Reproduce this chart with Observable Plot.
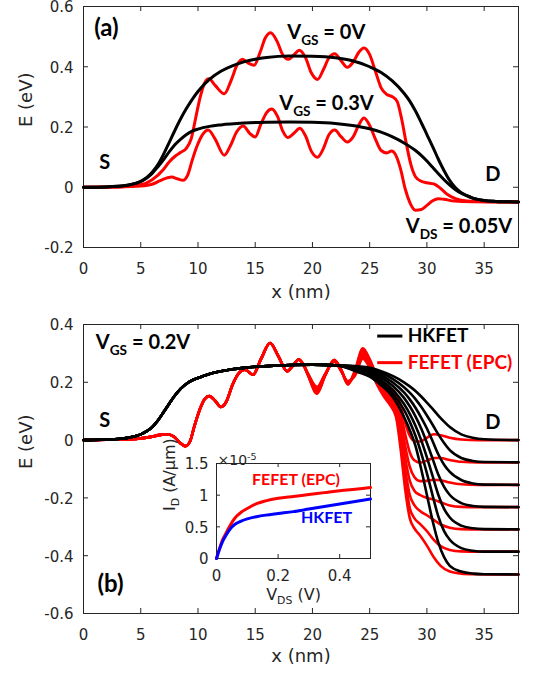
<!DOCTYPE html>
<html><head><meta charset="utf-8">
<script src="https://cdn.jsdelivr.net/npm/d3@7"></script>
<script src="https://cdn.jsdelivr.net/npm/@observablehq/plot@0.6"></script>
<style>
body{margin:0;background:#fff;}
#wrap{position:relative;width:534px;height:676px;overflow:hidden;background:#fff;}
#wrap svg{position:absolute;}
</style></head><body><div id="wrap"></div>
<script>
// ---------------- tick values ----------------
const xTicks = [0,5,10,15,20,25,30,35];
const yTicksA = [-0.2,0,0.2,0.4,0.6];
const yTicksB = [-0.6,-0.4,-0.2,0,0.2,0.4];
const insetXTicks = [0,0.2,0.4];
const insetYTicks = [0,0.5,1,1.5];

// ---------------- panel (a): [x (nm), E (eV)] ----------------
const aBlackVgs0 = [[0,0],[2,0.001],[3,0.003],[4,0.008],[5,0.02],[5.5,0.032],[6,0.05],[6.5,0.075],[7,0.11],[7.5,0.15],[8,0.19],[8.5,0.228],[9,0.262],[9.5,0.292],[10,0.318],[11,0.358],[12,0.385],[13,0.403],[14,0.416],[15,0.425],[16,0.431],[18,0.436],[20,0.435],[22,0.43],[23.5,0.42],[25,0.4],[26,0.381],[27,0.352],[28,0.312],[28.5,0.286],[29,0.253],[29.5,0.215],[30,0.175],[30.5,0.135],[31,0.093],[31.5,0.055],[32,0.022],[32.5,-0.002],[33,-0.018],[33.5,-0.028],[34,-0.036],[35,-0.044],[36,-0.047],[38,-0.049]];
const aBlackVgs03 = [[0,0],[2,0.001],[3,0.003],[4,0.008],[5,0.019],[5.5,0.03],[6,0.046],[6.5,0.068],[7,0.092],[7.5,0.118],[8,0.142],[8.5,0.16],[9,0.175],[9.5,0.186],[10,0.193],[11,0.202],[12,0.207],[14,0.213],[16,0.216],[18,0.217],[20,0.216],[22,0.212],[23.5,0.205],[25,0.194],[26,0.183],[27,0.167],[28,0.147],[29,0.122],[29.5,0.106],[30,0.087],[30.5,0.066],[31,0.045],[31.5,0.025],[32,0.007],[32.5,-0.008],[33,-0.02],[33.5,-0.029],[34,-0.036],[35,-0.044],[36,-0.047],[38,-0.049]];
const aRedVgs0 = [[0,0],[3,0.001],[5,0.008],[6,0.025],[7,0.06],[7.5,0.085],[8,0.103],[8.5,0.116],[9,0.13],[9.4,0.16],[9.8,0.23],[10.2,0.3],[10.6,0.348],[10.95,0.36],[11.5,0.338],[12.3,0.31],[12.9,0.355],[13.4,0.405],[13.9,0.425],[14.4,0.412],[14.9,0.405],[15.4,0.445],[15.9,0.497],[16.35,0.513],[16.9,0.485],[17.4,0.44],[17.9,0.425],[18.4,0.44],[18.85,0.455],[19.4,0.43],[19.9,0.38],[20.45,0.358],[20.95,0.39],[21.45,0.43],[21.95,0.443],[22.5,0.42],[23.05,0.398],[23.55,0.415],[24.05,0.448],[24.5,0.462],[25,0.44],[25.5,0.385],[26,0.33],[26.5,0.308],[27,0.3],[27.4,0.285],[27.8,0.225],[28.2,0.145],[28.6,0.075],[29,0.035],[29.5,0.02],[30,0.015],[30.6,0.011],[31.2,-0.004],[31.8,-0.024],[32.5,-0.038],[33.5,-0.046],[35,-0.048],[38,-0.049]];
const aRedVgs03 = [[0,0],[3,0.001],[5,0.004],[6,0.01],[6.7,0.022],[7.3,0.031],[7.7,0.034],[8.2,0.028],[8.7,0.023],[9.1,0.04],[9.5,0.09],[9.9,0.135],[10.4,0.175],[10.9,0.19],[11.5,0.16],[12.3,0.106],[12.8,0.135],[13.4,0.185],[13.95,0.203],[14.5,0.18],[15,0.167],[15.5,0.21],[16,0.248],[16.45,0.26],[16.95,0.235],[17.4,0.187],[17.85,0.165],[18.4,0.18],[18.9,0.196],[19.4,0.17],[19.9,0.12],[20.45,0.1],[20.95,0.128],[21.45,0.175],[21.95,0.19],[22.5,0.168],[23.05,0.15],[23.55,0.167],[24.05,0.207],[24.5,0.23],[25,0.205],[25.5,0.16],[26,0.122],[26.5,0.114],[26.9,0.12],[27.3,0.105],[27.7,0.06],[28.1,-0.005],[28.5,-0.05],[29,-0.076],[29.5,-0.074],[30,-0.06],[30.5,-0.045],[31,-0.038],[31.5,-0.04],[32.4,-0.046],[34,-0.048],[38,-0.049]];

// ---------------- panel (b): HKFET (black), shared source side ----------------
const bBlackLeft = [[0,0],[2,0.002],[3,0.004],[4,0.009],[5,0.02],[5.5,0.03],[6,0.045],[6.5,0.068],[7,0.097],[7.5,0.127],[8,0.155],[8.5,0.178],[9,0.195],[9.5,0.207],[10,0.215],[11,0.229],[12,0.238],[13,0.245],[14,0.25],[16,0.256],[18,0.26],[20,0.261],[22,0.259]];
const bBlackRightX = [24,25,26,27,28,28.5,29,29.5,30,30.5,31,31.5,32,33,34,35,38];
const bBlackVds0 = [0.255,0.250,0.238,0.222,0.200,0.186,0.170,0.151,0.130,0.108,0.085,0.064,0.045,0.020,0.008,0.003,0.000];
const bBlackVds1 = [0.253,0.246,0.232,0.212,0.183,0.164,0.142,0.115,0.085,0.053,0.020,-0.010,-0.035,-0.062,-0.072,-0.076,-0.077];
const bBlackVds2 = [0.250,0.241,0.225,0.200,0.165,0.141,0.112,0.078,0.040,-0.004,-0.050,-0.085,-0.110,-0.138,-0.150,-0.154,-0.155];
const bBlackVds3 = [0.247,0.236,0.217,0.188,0.146,0.117,0.082,0.040,-0.010,-0.065,-0.120,-0.162,-0.190,-0.218,-0.228,-0.231,-0.232];
const bBlackVds4 = [0.243,0.231,0.208,0.175,0.125,0.091,0.050,0.000,-0.060,-0.125,-0.190,-0.238,-0.268,-0.296,-0.305,-0.308,-0.309];
const bBlackVds5 = [0.239,0.225,0.199,0.162,0.105,0.064,0.015,-0.045,-0.115,-0.192,-0.265,-0.315,-0.345,-0.374,-0.383,-0.386,-0.386];
const bBlackVds6 = [0.235,0.220,0.190,0.150,0.080,0.035,-0.020,-0.100,-0.190,-0.280,-0.355,-0.405,-0.435,-0.455,-0.462,-0.464,-0.465];

// ---------------- panel (b): FEFET (red), shared source side ----------------
const bRedLeft = [[0,0],[2,0.001],[4,0.003],[5,0.006],[6,0.012],[6.7,0.018],[7.3,0.02],[7.9,0.012],[8.4,-0.008],[8.9,-0.021],[9.3,-0.005],[9.7,0.05],[10.2,0.11],[10.6,0.143],[11,0.152],[11.5,0.136],[12,0.115],[12.5,0.135],[13,0.19],[13.5,0.228],[14.1,0.244],[14.8,0.226],[15.5,0.28],[16.3,0.336],[17,0.292],[17.8,0.238],[18.3,0.258],[18.8,0.279],[19.2,0.262]];
const bRedRightX = [19.6,20.4,21.1,21.9,22.5,23.1,23.7,24.4,25.0,25.6,26.2,26.8,27.3,27.7,28.1,28.5,28.9,29.4,30.0,30.6,31.2,32.0,33.0,34.5,36,38];
const bRedVds0 = [0.225,0.160,0.222,0.278,0.245,0.192,0.240,0.318,0.280,0.225,0.195,0.180,0.160,0.120,0.060,0.015,-0.003,-0.005,0.008,0.020,0.017,0.008,0.002,0,0,0];
const bRedVds1 = [0.226,0.164,0.223,0.277,0.244,0.194,0.237,0.312,0.275,0.220,0.188,0.170,0.145,0.095,0.020,-0.042,-0.070,-0.078,-0.071,-0.062,-0.062,-0.069,-0.075,-0.077,-0.077,-0.077];
const bRedVds2 = [0.227,0.168,0.224,0.276,0.243,0.196,0.234,0.306,0.270,0.215,0.181,0.160,0.130,0.070,-0.020,-0.092,-0.128,-0.142,-0.141,-0.137,-0.139,-0.147,-0.153,-0.155,-0.155,-0.155];
const bRedVds3 = [0.228,0.172,0.225,0.275,0.242,0.198,0.231,0.300,0.265,0.210,0.174,0.150,0.115,0.045,-0.060,-0.140,-0.175,-0.190,-0.200,-0.206,-0.215,-0.226,-0.231,-0.232,-0.232,-0.232];
const bRedVds4 = [0.229,0.176,0.226,0.274,0.241,0.200,0.228,0.294,0.260,0.205,0.167,0.140,0.100,0.020,-0.100,-0.190,-0.225,-0.245,-0.260,-0.276,-0.292,-0.303,-0.308,-0.309,-0.309,-0.309];
const bRedVds5 = [0.230,0.180,0.227,0.273,0.240,0.202,0.225,0.288,0.255,0.200,0.160,0.130,0.090,0.000,-0.130,-0.235,-0.270,-0.290,-0.315,-0.345,-0.367,-0.380,-0.385,-0.386,-0.386,-0.386];
const bRedVds6 = [0.231,0.184,0.228,0.272,0.239,0.204,0.222,0.282,0.250,0.195,0.153,0.120,0.080,-0.030,-0.170,-0.270,-0.305,-0.330,-0.365,-0.405,-0.435,-0.455,-0.462,-0.464,-0.465,-0.465];

// ---------------- inset: I_D (x1e-5 A/um) vs V_DS (V) ----------------
const insetVds   = [0,0.01,0.02,0.03,0.045,0.06,0.08,0.1,0.13,0.16,0.2,0.25,0.3,0.35,0.4,0.45,0.5];
const insetFefet = [0,0.16,0.30,0.39,0.53,0.64,0.73,0.79,0.865,0.91,0.95,0.98,1.01,1.04,1.07,1.095,1.12];
const insetHkfet = [0,0.15,0.27,0.36,0.47,0.54,0.59,0.625,0.66,0.685,0.71,0.74,0.78,0.82,0.86,0.90,0.94];

// ---------------- helpers ----------------
const INK = "#262626";
const tickFont = "DejaVu Sans, Verdana, sans-serif";
const annFont = "Lato, 'Open Sans', sans-serif";
const rowsFromPairs = (pairs, series) => pairs.map(([x, E]) => ({x, E, series}));
const rowsFromCols = (left, xs, es, series) =>
  rowsFromPairs(left.concat(xs.map((x, i) => [x, es[i]])), series);

// MATLAB-style box: inward tick marks on all four sides, labels on bottom/left
function boxAxes(xt, yt, frameW, frameH, {len = 5, xpad = 15.6, ypad = 10} = {}) {
  const fmt = d => String(d);
  return [
    Plot.tickX(xt, {x: d => d, insetTop: frameH - len, stroke: INK}),
    Plot.tickX(xt, {x: d => d, insetBottom: frameH - len, stroke: INK}),
    Plot.tickY(yt, {y: d => d, insetRight: frameW - len, stroke: INK}),
    Plot.tickY(yt, {y: d => d, insetLeft: frameW - len, stroke: INK}),
    Plot.axisX(xt, {anchor: "bottom", tickSize: 0, tickPadding: xpad, tickFormat: fmt, label: null}),
    Plot.axisY(yt, {anchor: "left", tickSize: 0, tickPadding: ypad, tickFormat: fmt, label: null, dy: 1})
  ];
}
const ann = (s, x, y, opts = {}) => Plot.text([s], {x, y, text: d => d, fontFamily: annFont, fontWeight: "bold", fontSize: 20, fill: "#000", ...opts});

const wrap = document.getElementById("wrap");
function richText(svg) {
  svg.querySelectorAll("text").forEach(t => {
    const s = t.textContent;
    if (!/[_^]\{/.test(s)) return;
    const fs = parseFloat(getComputedStyle(t).fontSize) || 16;
    while (t.firstChild) t.removeChild(t.firstChild);
    const re = /([_^])\{([^}]*)\}/g;
    let last = 0, m, shift = 0;
    const add = (str, kind) => {
      const ts = document.createElementNS("http://www.w3.org/2000/svg", "tspan");
      const target = kind === "_" ? 0.3 * fs : kind === "^" ? -0.42 * fs : 0;
      if (target - shift !== 0) ts.setAttribute("dy", target - shift);
      shift = target;
      if (kind) ts.setAttribute("font-size", 0.68 * fs);
      ts.textContent = str;
      t.appendChild(ts);
    };
    while ((m = re.exec(s))) {
      if (m.index > last) add(s.slice(last, m.index), null);
      add(m[2], m[1]);
      last = re.lastIndex;
    }
    if (last < s.length) add(s.slice(last), null);
  });
}
function place(svg, left, top) {
  svg.style.left = left + "px";
  svg.style.top = top + "px";
  wrap.appendChild(svg);
  richText(svg);
}
const baseStyle = {fontFamily: tickFont, fontSize: "15px", color: INK, background: "transparent", overflow: "visible"};

// ---------------- panel (a) ----------------
const aRed = [...rowsFromPairs(aRedVgs0, "r0"), ...rowsFromPairs(aRedVgs03, "r03")];
const aBlack = [...rowsFromPairs(aBlackVgs0, "b0"), ...rowsFromPairs(aBlackVgs03, "b03")];
const plotA = Plot.plot({
  width: 534, height: 310, marginLeft: 83, marginRight: 16, marginTop: 6, marginBottom: 63,
  x: {domain: [0, 38], label: null}, y: {domain: [-0.2, 0.6], label: null},
  style: baseStyle,
  marks: [
    ...boxAxes(xTicks, yTicksA, 435, 241),
    Plot.frame({stroke: INK}),
    Plot.line(aRed, {x: "x", y: "E", z: "series", stroke: "#ff0000", strokeWidth: 3, curve: "monotone-x"}),
    Plot.line(aBlack, {x: "x", y: "E", z: "series", stroke: "#000", strokeWidth: 3, curve: "monotone-x"}),
    Plot.text(["x (nm)"], {frameAnchor: "bottom", dy: 50, fontSize: 18, fill: INK}),
    Plot.text(["E (eV)"], {frameAnchor: "left", dx: -57, rotate: -90, fontSize: 18, fill: INK}),
    ann("(a)", 2.0, 0.526, {fontSize: 24, letterSpacing: "1px"}),
    ann("V_{GS} = 0V", 17.8, 0.513, {textAnchor: "start"}),
    ann("V_{GS} = 0.3V", 17.1, 0.277, {textAnchor: "start"}),
    ann("S", 1.86, 0.083),
    ann("D", 35.75, 0.043),
    ann("V_{DS} = 0.05V", 28.15, -0.131, {textAnchor: "start"})
  ]
});
place(plotA, 0, 0);

// ---------------- panel (b) ----------------
const bBlackSeries = [bBlackVds0, bBlackVds1, bBlackVds2, bBlackVds3, bBlackVds4, bBlackVds5, bBlackVds6];
const bRedSeries = [bRedVds0, bRedVds1, bRedVds2, bRedVds3, bRedVds4, bRedVds5, bRedVds6];
const bBlack = bBlackSeries.flatMap((es, k) => rowsFromCols(bBlackLeft, bBlackRightX, es, "hk" + k));
const bRed = bRedSeries.flatMap((es, k) => rowsFromCols(bRedLeft, bRedRightX, es, "fe" + k));
const plotB = Plot.plot({
  width: 534, height: 366, marginLeft: 83, marginRight: 16, marginTop: 14, marginBottom: 63,
  x: {domain: [0, 38], label: null}, y: {domain: [-0.6, 0.4], label: null},
  style: baseStyle,
  marks: [
    ...boxAxes(xTicks, yTicksB, 435, 289),
    Plot.frame({stroke: INK}),
    Plot.line(bRed, {x: "x", y: "E", z: "series", stroke: "#ff0000", strokeWidth: 2.6, curve: "monotone-x"}),
    Plot.line(bBlack, {x: "x", y: "E", z: "series", stroke: "#000", strokeWidth: 2.6, curve: "monotone-x"}),
    Plot.text(["x (nm)"], {frameAnchor: "bottom", dy: 48, fontSize: 18, fill: INK}),
    Plot.text(["E (eV)"], {frameAnchor: "left", dx: -57, rotate: -90, fontSize: 18, fill: INK}),
    ann("V_{GS} = 0.2V", 1.08, 0.338, {textAnchor: "start"}),
    ann("S", 1.86, 0.066),
    ann("D", 35.75, 0.06),
    ann("(b)", 2.36, -0.5, {fontSize: 24, letterSpacing: "1px"}),
    Plot.ruleY(["HKFET"], {y: 0.36, x1: 25.7, x2: 27.9, stroke: "#000", strokeWidth: 3}),
    Plot.ruleY(["FEFET (EPC)"], {y: 0.268, x1: 25.7, x2: 27.9, stroke: "#ff0000", strokeWidth: 3}),
    ann("HKFET", 28.32, 0.36, {textAnchor: "start", fontSize: 19}),
    ann("FEFET (EPC)", 28.32, 0.268, {textAnchor: "start", fontSize: 19, fill: "#ff0000"})
  ]
});
place(plotB, 0, 310);

// ---------------- inset ----------------
const fefetRows = insetVds.map((v, i) => ({v, i: insetFefet[i]}));
const hkfetRows = insetVds.map((v, i) => ({v, i: insetHkfet[i]}));
const plotI = Plot.plot({
  width: 230, height: 170, marginLeft: 66, marginRight: 10, marginTop: 23, marginBottom: 52,
  x: {domain: [0, 0.5], label: null}, y: {domain: [0, 1.5], label: null},
  style: baseStyle,
  marks: [
    Plot.frame({fill: "#fff", stroke: null}),
    ...boxAxes(insetXTicks, insetYTicks, 154, 95, {len: 4, xpad: 11.6, ypad: 8}),
    Plot.frame({stroke: INK}),
    Plot.line(fefetRows, {x: "v", y: "i", stroke: "#ff0000", strokeWidth: 3, curve: "monotone-x"}),
    Plot.line(hkfetRows, {x: "v", y: "i", stroke: "#0000ff", strokeWidth: 3, curve: "monotone-x"}),
    ann("FEFET (EPC)", 0.258, 1.24, {fontSize: 16, fill: "#ff0000"}),
    ann("HKFET", 0.357, 0.643, {fontSize: 16, fill: "#0000ff"}),
    Plot.text(["×10^{-5}"], {frameAnchor: "top-left", dx: 1, dy: -8, textAnchor: "start", fontSize: 14, fill: INK}),
    Plot.text(["I_{D} (A/μm)"], {frameAnchor: "left", dx: -47, rotate: -90, fontSize: 16, fill: INK}),
    Plot.text(["V_{DS} (V)"], {frameAnchor: "bottom", dy: 41, fontSize: 16, fill: INK})
  ]
});
place(plotI, 150, 440);
</script>
</body></html>
